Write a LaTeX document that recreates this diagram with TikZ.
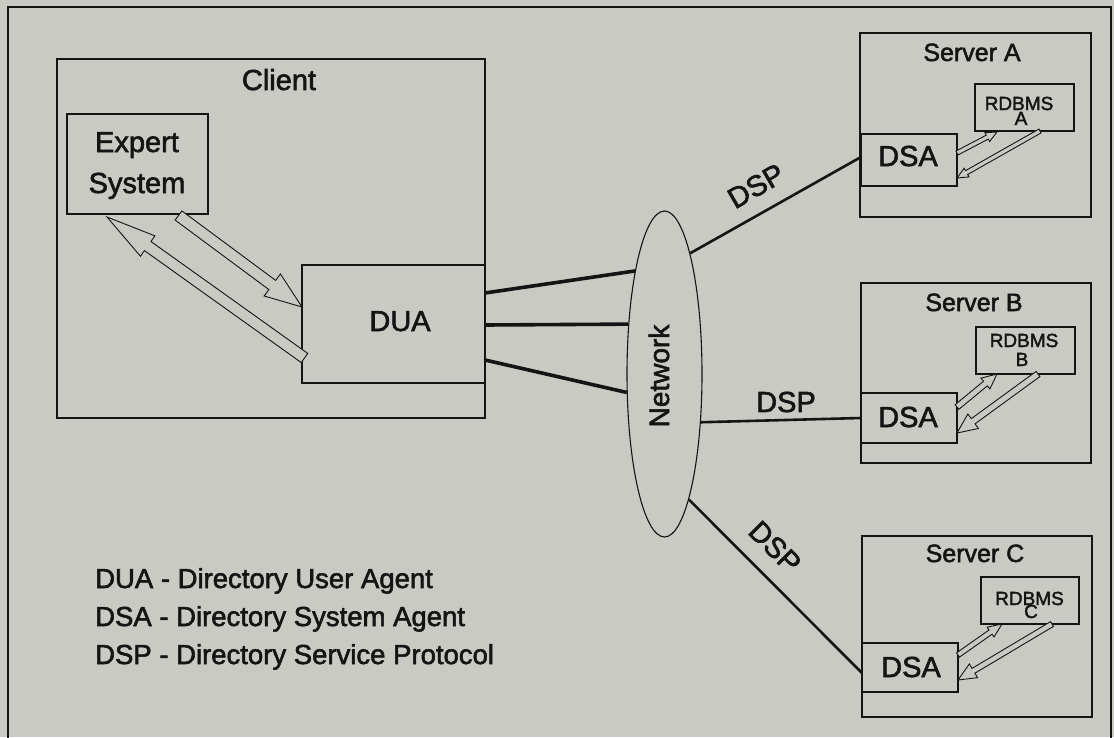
\documentclass[tikz,border=0pt]{standalone}
\usepackage{fontspec}
\setmainfont{Liberation Sans}[FakeBold=2]
\usetikzlibrary{calc,shapes.geometric}
\definecolor{bgc}{RGB}{201,202,195}
\definecolor{ink}{RGB}{20,20,20}
% #1 tail, #2 tip, #3 shaft half width, #4 head half width, #5 head length
\newcommand\fatarrow[5]{%
  \coordinate (fatc) at ($(#2)!#5!(#1)$);
  \draw[fat] ($(#1)!#3!90:(#2)$) -- ($(fatc)!#3!-90:(#1)$) -- ($(fatc)!#4!-90:(#1)$) -- (#2)
     -- ($(fatc)!#4!90:(#1)$) -- ($(fatc)!#3!90:(#1)$) -- ($(#1)!#3!-90:(#2)$) -- cycle;}
\tikzset{
  box/.style={draw=ink,line width=1.1pt,inner sep=0pt,outer sep=0pt},
  big/.style={font=\fontsize{29}{34}\selectfont,anchor=base,inner sep=0pt,text=ink},
  leg/.style={font=\fontsize{27.5}{32}\selectfont,anchor=base west,inner sep=0pt,text=ink},
  mid/.style={font=\fontsize{25}{30}\selectfont,anchor=base,inner sep=0pt,text=ink},
  small/.style={font=\fontsize{19}{22}\selectfont,anchor=base,inner sep=0pt,text=ink},
  fat/.style={draw=ink,line width=0.9pt,fill=bgc,line join=miter},
  link/.style={draw=ink,line width=3.6pt},
  linktwo/.style={draw=ink,line width=2.6pt}
}
\begin{document}
\begin{tikzpicture}[x=1pt,y=-1pt]
\useasboundingbox (0,0) rectangle (1114,737);
\fill[bgc] (0,0) rectangle (1114,737);
\draw[ink,line width=1.8pt] (8,7) rectangle (1111,780);

% client side
\node[box,minimum width=428pt,minimum height=359pt] (client) at (271,238.5) {};
\node[box,minimum width=141pt,minimum height=100pt] (expert) at (137.5,164) {};
\node[box,minimum width=183pt,minimum height=118pt] (dua) at (393.5,324) {};
\node[big] (tclient) at (279,90) {Client};
\node[big] (texpa) at (137,152) {Expert};
\node[big] (texpb) at (137,193) {System};
\node[big] (tdua) at (400,331) {DUA};

\coordinate (eat) at (178.5,215.5);
\coordinate (eah) at (302,307);
\coordinate (ebt) at (304.5,358);
\coordinate (ebh) at (107,217);
\fatarrow{eat}{eah}{5.7pt}{13.7pt}{37pt}
\fatarrow{ebt}{ebh}{5.6pt}{12.5pt}{50pt}

% network
\node[draw=ink,line width=1.1pt,ellipse,minimum width=75pt,minimum height=326pt,inner sep=0pt] (net) at (664.5,374) {};
\node[font=\fontsize{28}{32}\selectfont,text=ink,rotate=90,inner sep=0pt] (tnet) at (659,376) {Network};

% servers
\node[box,minimum width=231pt,minimum height=184pt] (srva) at (975.5,125) {};
\node[box,minimum width=99pt,minimum height=47pt] (rdba) at (1024.5,107.5) {};
\node[box,minimum width=96pt,minimum height=52pt] (dsaa) at (909,160) {};
\node[mid] (tsrva) at (972,61) {Server A};
\node[small] (trdbaa) at (1019,110) {RDBMS};
\node[small] (trdbab) at (1021,125) {A};
\node[big] (tdsaa) at (908,166) {DSA};

\node[box,minimum width=230pt,minimum height=180pt] (srvb) at (976,373) {};
\node[box,minimum width=99pt,minimum height=47pt] (rdbb) at (1025.5,350.5) {};
\node[box,minimum width=96pt,minimum height=50pt] (dsab) at (909,418) {};
\node[mid] (tsrvb) at (974,311) {Server B};
\node[small] (trdbba) at (1024,347) {RDBMS};
\node[small] (trdbbb) at (1022,366) {B};
\node[big] (tdsab) at (908,427) {DSA};

\node[box,minimum width=230pt,minimum height=181pt] (srvc) at (977,626.5) {};
\node[box,minimum width=98pt,minimum height=47pt] (rdbc) at (1030,600.5) {};
\node[box,minimum width=96pt,minimum height=49pt] (dsac) at (910,667.5) {};
\node[mid] (tsrvc) at (975,562) {Server C};
\node[small] (trdbca) at (1029.5,605) {RDBMS};
\node[small] (trdbcb) at (1031,618) {C};
\node[big] (tdsac) at (911,677) {DSA};

% server arrows
\coordinate (aat) at (957,153);  \coordinate (aah) at (997,132);
\coordinate (abt) at (1040,131); \coordinate (abh) at (957,178);
\fatarrow{aat}{aah}{2.2pt}{5pt}{11pt}
\fatarrow{abt}{abh}{2.2pt}{5pt}{11pt}
\coordinate (bat) at (957,407);  \coordinate (bah) at (997,374);
\coordinate (bbt) at (1038,374); \coordinate (bbh) at (957,433);
\fatarrow{bat}{bah}{3pt}{7pt}{15pt}
\fatarrow{bbt}{bbh}{3.2pt}{9pt}{20pt}
\coordinate (cat) at (958,655);  \coordinate (cah) at (1002,624);
\coordinate (cbt) at (1052,624); \coordinate (cbh) at (958,680);
\fatarrow{cat}{cah}{2.6pt}{6pt}{14pt}
\fatarrow{cbt}{cbh}{2.8pt}{8pt}{18pt}

% connectors
\draw[link] ([yshift=31pt]dua.east) -- (net.106);
\draw[link] ([yshift=-1pt]dua.east) -- (net.126);
\draw[link] ([yshift=-36pt]dua.east) -- (net.206);
\draw[linktwo] (net.78) -- ([yshift=3pt]dsaa.west);
\draw[linktwo] (net.307) -- (dsab.west);
\draw[linktwo] (net.281) -- ([yshift=-5.5pt]dsac.west);

\node[big,anchor=center,rotate=30] (dspa) at (756,186) {DSP};
\node[big,anchor=center] (dspb) at (786,402) {DSP};
\node[big,anchor=center,rotate=-45] (dspc) at (775,547) {DSP};

% legend
\node[leg] (lega) at (95,588) {DUA - Directory User Agent};
\node[leg] (legb) at (95,626) {DSA - Directory System Agent};
\node[leg] (legc) at (95,664) {DSP - Directory Service Protocol};
\end{tikzpicture}
\end{document}
